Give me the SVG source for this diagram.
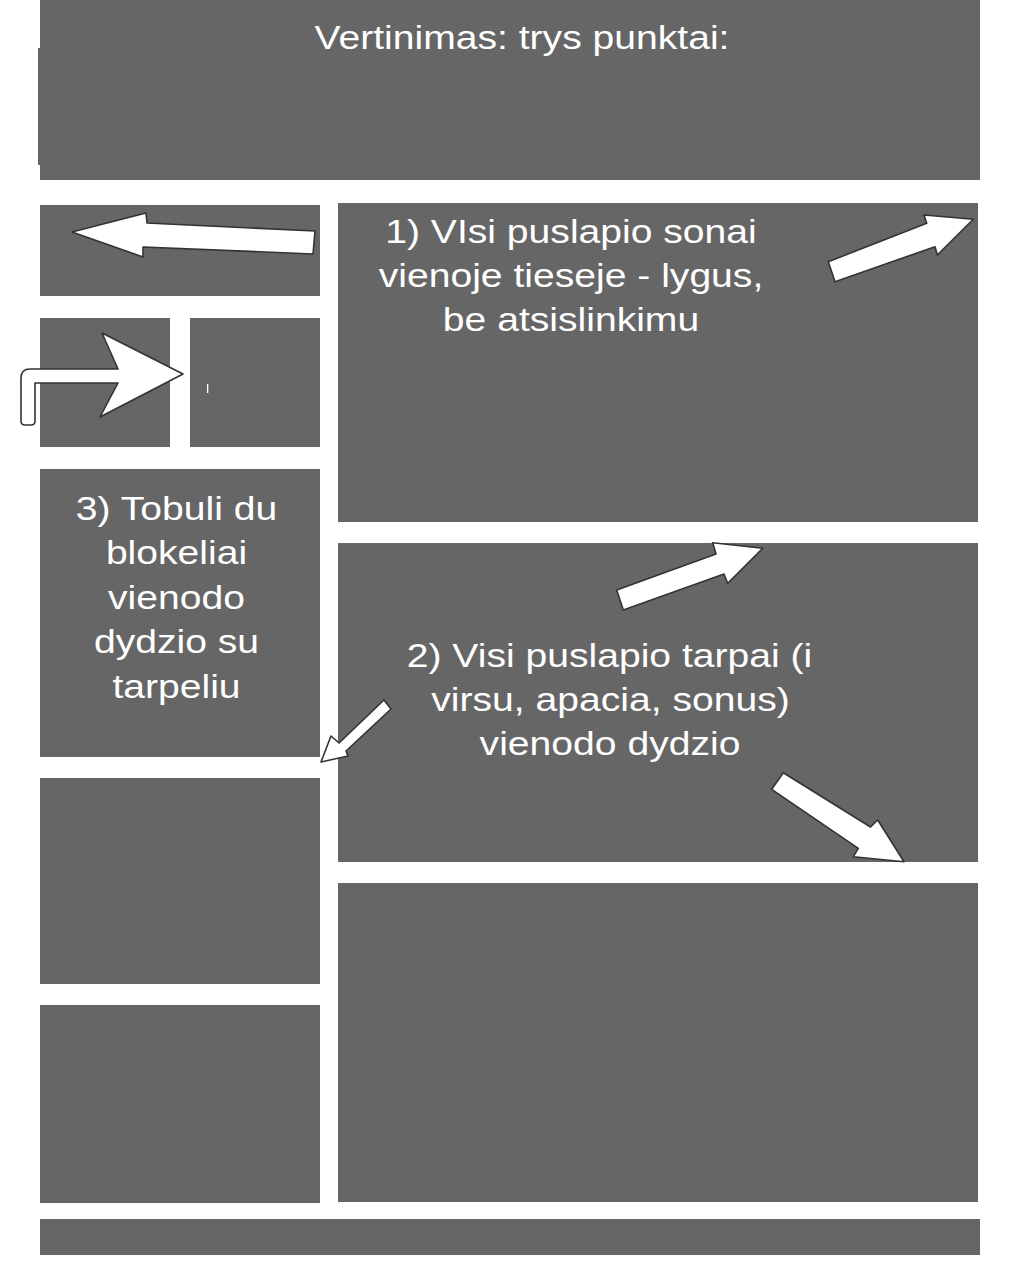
<svg xmlns="http://www.w3.org/2000/svg" width="1020" height="1283" viewBox="0 0 1020 1283">
<style>
.box{fill:#666666}
.t{font-family:"Liberation Sans",Arial,sans-serif;font-size:34px;fill:#ffffff;text-anchor:middle}
.arr{fill:#ffffff;stroke:#333333;stroke-width:1.6;stroke-linejoin:round}
</style>
<rect x="0" y="0" width="1020" height="1283" fill="#ffffff"/>
<g id="header">
<rect class="box" x="40" y="0" width="940" height="180"/>
<rect class="box" x="38" y="48" width="3" height="117"/>
<text class="t" transform="translate(522,48.5) scale(1.15,1)">Vertinimas: trys punktai:</text>
</g>
<g id="box-top-left"><rect class="box" x="40" y="205" width="280" height="91"/></g>
<g id="box-small-1"><rect class="box" x="40" y="318" width="130" height="129"/></g>
<g id="box-small-2"><rect class="box" x="190" y="318" width="130" height="129"/><rect x="207" y="384" width="1.3" height="9" fill="#ffffff"/></g>
<g id="box-note-3">
<rect class="box" x="40" y="469" width="280" height="288"/>
<text class="t" transform="translate(176.5,520) scale(1.15,1)">3) Tobuli du</text>
<text class="t" transform="translate(176.5,564) scale(1.15,1)">blokeliai</text>
<text class="t" transform="translate(176.5,609) scale(1.15,1)">vienodo</text>
<text class="t" transform="translate(176.5,653) scale(1.15,1)">dydzio su</text>
<text class="t" transform="translate(176.5,698) scale(1.15,1)">tarpeliu</text>
</g>
<g id="box-left-4"><rect class="box" x="40" y="778" width="280" height="206"/></g>
<g id="box-left-5"><rect class="box" x="40" y="1005" width="280" height="198"/></g>
<g id="box-note-1">
<rect class="box" x="338" y="203" width="640" height="319"/>
<text class="t" transform="translate(571,243) scale(1.15,1)">1) VIsi puslapio sonai</text>
<text class="t" transform="translate(571,287) scale(1.15,1)">vienoje tieseje - lygus,</text>
<text class="t" transform="translate(571,331) scale(1.15,1)">be atsislinkimu</text>
</g>
<g id="box-note-2">
<rect class="box" x="338" y="543" width="640" height="319"/>
<text class="t" transform="translate(609.5,667) scale(1.15,1)">2) Visi puslapio tarpai (i</text>
<text class="t" transform="translate(610.5,711) scale(1.15,1)">virsu, apacia, sonus)</text>
<text class="t" transform="translate(610,755) scale(1.15,1)">vienodo dydzio</text>
</g>
<g id="box-right-3"><rect class="box" x="338" y="883" width="640" height="319"/></g>
<g id="footer"><rect class="box" x="40" y="1219" width="940" height="36"/></g>
<g id="connectors">
<polygon class="arr" points="72,232 146,213 147,223 315,231 313,254 143,247 143,257"/>
<path class="arr" d="M183,374 L102,333 L118,369 L30,369 Q21,369 21,378 L21,421 Q21,425 25,425 L31,425 Q35,425 35,421 L35,383 L118,383 L100,417 Z"/>
<polygon class="arr" points="828.3,261.7 926.7,223.3 924,215 973.3,219.3 937.3,255 935,246.7 835,281.7"/>
<polygon class="arr" points="616.7,590 716,554 712.7,542.7 762.7,548.3 727.7,583.3 724,574 623.3,610"/>
<polygon class="arr" points="321,762 331,736 339,743 384,700 391,709 346,751 348,756"/>
<polygon class="arr" points="783.3,772.7 870.5,827 877.7,820 904,861.7 853.3,856.7 858.3,848.3 771.7,789.3"/>
</g>
</svg>
